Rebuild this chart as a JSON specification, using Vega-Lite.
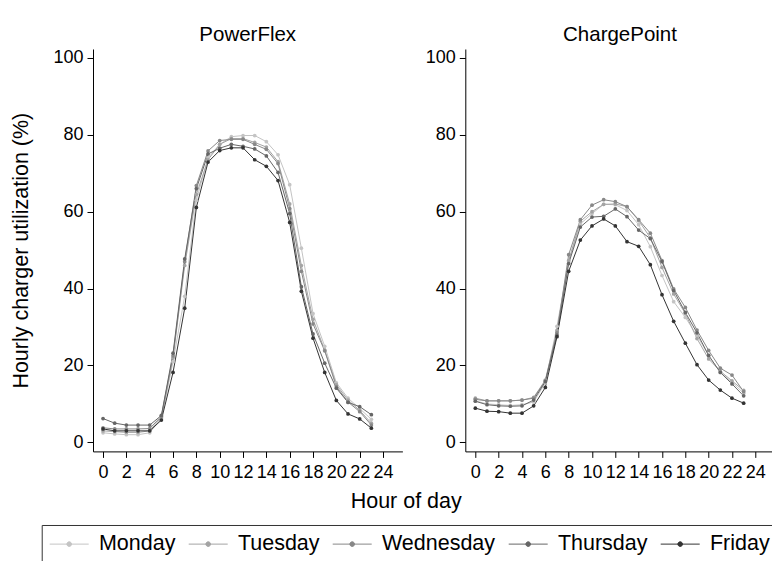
{
"$schema":"https://vega.github.io/schema/vega-lite/v6.json",
"padding":{"left":10,"top":25,"right":0,"bottom":0},
"datasets":{"d":[
{"charger":"PowerFlex","day":"Monday","hour":0,"util":2.5},{"charger":"PowerFlex","day":"Monday","hour":1,"util":2.2},{"charger":"PowerFlex","day":"Monday","hour":2,"util":2.0},{"charger":"PowerFlex","day":"Monday","hour":3,"util":2.0},{"charger":"PowerFlex","day":"Monday","hour":4,"util":2.5},{"charger":"PowerFlex","day":"Monday","hour":5,"util":6.2},{"charger":"PowerFlex","day":"Monday","hour":6,"util":21},{"charger":"PowerFlex","day":"Monday","hour":7,"util":38},{"charger":"PowerFlex","day":"Monday","hour":8,"util":63},{"charger":"PowerFlex","day":"Monday","hour":9,"util":74},{"charger":"PowerFlex","day":"Monday","hour":10,"util":77.5},{"charger":"PowerFlex","day":"Monday","hour":11,"util":79.5},{"charger":"PowerFlex","day":"Monday","hour":12,"util":79.8},{"charger":"PowerFlex","day":"Monday","hour":13,"util":79.8},{"charger":"PowerFlex","day":"Monday","hour":14,"util":78.2},{"charger":"PowerFlex","day":"Monday","hour":15,"util":74.8},{"charger":"PowerFlex","day":"Monday","hour":16,"util":67},{"charger":"PowerFlex","day":"Monday","hour":17,"util":50.5},{"charger":"PowerFlex","day":"Monday","hour":18,"util":33.5},{"charger":"PowerFlex","day":"Monday","hour":19,"util":25},{"charger":"PowerFlex","day":"Monday","hour":20,"util":15.5},{"charger":"PowerFlex","day":"Monday","hour":21,"util":11.5},{"charger":"PowerFlex","day":"Monday","hour":22,"util":8.8},{"charger":"PowerFlex","day":"Monday","hour":23,"util":6.0},
{"charger":"PowerFlex","day":"Tuesday","hour":0,"util":3.0},{"charger":"PowerFlex","day":"Tuesday","hour":1,"util":2.8},{"charger":"PowerFlex","day":"Tuesday","hour":2,"util":2.6},{"charger":"PowerFlex","day":"Tuesday","hour":3,"util":2.6},{"charger":"PowerFlex","day":"Tuesday","hour":4,"util":3.0},{"charger":"PowerFlex","day":"Tuesday","hour":5,"util":6.5},{"charger":"PowerFlex","day":"Tuesday","hour":6,"util":22},{"charger":"PowerFlex","day":"Tuesday","hour":7,"util":46},{"charger":"PowerFlex","day":"Tuesday","hour":8,"util":64.5},{"charger":"PowerFlex","day":"Tuesday","hour":9,"util":73.5},{"charger":"PowerFlex","day":"Tuesday","hour":10,"util":77.5},{"charger":"PowerFlex","day":"Tuesday","hour":11,"util":79},{"charger":"PowerFlex","day":"Tuesday","hour":12,"util":79},{"charger":"PowerFlex","day":"Tuesday","hour":13,"util":78},{"charger":"PowerFlex","day":"Tuesday","hour":14,"util":76.8},{"charger":"PowerFlex","day":"Tuesday","hour":15,"util":73},{"charger":"PowerFlex","day":"Tuesday","hour":16,"util":62},{"charger":"PowerFlex","day":"Tuesday","hour":17,"util":46},{"charger":"PowerFlex","day":"Tuesday","hour":18,"util":32},{"charger":"PowerFlex","day":"Tuesday","hour":19,"util":24},{"charger":"PowerFlex","day":"Tuesday","hour":20,"util":15},{"charger":"PowerFlex","day":"Tuesday","hour":21,"util":11},{"charger":"PowerFlex","day":"Tuesday","hour":22,"util":8.3},{"charger":"PowerFlex","day":"Tuesday","hour":23,"util":5.0},
{"charger":"PowerFlex","day":"Wednesday","hour":0,"util":3.8},{"charger":"PowerFlex","day":"Wednesday","hour":1,"util":3.5},{"charger":"PowerFlex","day":"Wednesday","hour":2,"util":3.5},{"charger":"PowerFlex","day":"Wednesday","hour":3,"util":3.5},{"charger":"PowerFlex","day":"Wednesday","hour":4,"util":3.6},{"charger":"PowerFlex","day":"Wednesday","hour":5,"util":6.8},{"charger":"PowerFlex","day":"Wednesday","hour":6,"util":22.5},{"charger":"PowerFlex","day":"Wednesday","hour":7,"util":47},{"charger":"PowerFlex","day":"Wednesday","hour":8,"util":66.8},{"charger":"PowerFlex","day":"Wednesday","hour":9,"util":75.8},{"charger":"PowerFlex","day":"Wednesday","hour":10,"util":78.5},{"charger":"PowerFlex","day":"Wednesday","hour":11,"util":78.8},{"charger":"PowerFlex","day":"Wednesday","hour":12,"util":78.8},{"charger":"PowerFlex","day":"Wednesday","hour":13,"util":77.5},{"charger":"PowerFlex","day":"Wednesday","hour":14,"util":76.2},{"charger":"PowerFlex","day":"Wednesday","hour":15,"util":72.5},{"charger":"PowerFlex","day":"Wednesday","hour":16,"util":60.8},{"charger":"PowerFlex","day":"Wednesday","hour":17,"util":44.5},{"charger":"PowerFlex","day":"Wednesday","hour":18,"util":30.8},{"charger":"PowerFlex","day":"Wednesday","hour":19,"util":23.8},{"charger":"PowerFlex","day":"Wednesday","hour":20,"util":14.5},{"charger":"PowerFlex","day":"Wednesday","hour":21,"util":10.5},{"charger":"PowerFlex","day":"Wednesday","hour":22,"util":8.0},{"charger":"PowerFlex","day":"Wednesday","hour":23,"util":4.5},
{"charger":"PowerFlex","day":"Thursday","hour":0,"util":6.2},{"charger":"PowerFlex","day":"Thursday","hour":1,"util":5.0},{"charger":"PowerFlex","day":"Thursday","hour":2,"util":4.5},{"charger":"PowerFlex","day":"Thursday","hour":3,"util":4.5},{"charger":"PowerFlex","day":"Thursday","hour":4,"util":4.5},{"charger":"PowerFlex","day":"Thursday","hour":5,"util":7.0},{"charger":"PowerFlex","day":"Thursday","hour":6,"util":23.2},{"charger":"PowerFlex","day":"Thursday","hour":7,"util":47.7},{"charger":"PowerFlex","day":"Thursday","hour":8,"util":66},{"charger":"PowerFlex","day":"Thursday","hour":9,"util":75},{"charger":"PowerFlex","day":"Thursday","hour":10,"util":76.5},{"charger":"PowerFlex","day":"Thursday","hour":11,"util":77.5},{"charger":"PowerFlex","day":"Thursday","hour":12,"util":77},{"charger":"PowerFlex","day":"Thursday","hour":13,"util":76.3},{"charger":"PowerFlex","day":"Thursday","hour":14,"util":74.5},{"charger":"PowerFlex","day":"Thursday","hour":15,"util":70.2},{"charger":"PowerFlex","day":"Thursday","hour":16,"util":59.5},{"charger":"PowerFlex","day":"Thursday","hour":17,"util":40.5},{"charger":"PowerFlex","day":"Thursday","hour":18,"util":28.2},{"charger":"PowerFlex","day":"Thursday","hour":19,"util":20.6},{"charger":"PowerFlex","day":"Thursday","hour":20,"util":14.1},{"charger":"PowerFlex","day":"Thursday","hour":21,"util":10.4},{"charger":"PowerFlex","day":"Thursday","hour":22,"util":9.3},{"charger":"PowerFlex","day":"Thursday","hour":23,"util":7.2},
{"charger":"PowerFlex","day":"Friday","hour":0,"util":3.5},{"charger":"PowerFlex","day":"Friday","hour":1,"util":3.0},{"charger":"PowerFlex","day":"Friday","hour":2,"util":3.0},{"charger":"PowerFlex","day":"Friday","hour":3,"util":3.0},{"charger":"PowerFlex","day":"Friday","hour":4,"util":3.0},{"charger":"PowerFlex","day":"Friday","hour":5,"util":5.8},{"charger":"PowerFlex","day":"Friday","hour":6,"util":18.2},{"charger":"PowerFlex","day":"Friday","hour":7,"util":34.9},{"charger":"PowerFlex","day":"Friday","hour":8,"util":61.1},{"charger":"PowerFlex","day":"Friday","hour":9,"util":72.9},{"charger":"PowerFlex","day":"Friday","hour":10,"util":75.9},{"charger":"PowerFlex","day":"Friday","hour":11,"util":76.6},{"charger":"PowerFlex","day":"Friday","hour":12,"util":76.6},{"charger":"PowerFlex","day":"Friday","hour":13,"util":73.5},{"charger":"PowerFlex","day":"Friday","hour":14,"util":71.8},{"charger":"PowerFlex","day":"Friday","hour":15,"util":68.1},{"charger":"PowerFlex","day":"Friday","hour":16,"util":57.2},{"charger":"PowerFlex","day":"Friday","hour":17,"util":39.3},{"charger":"PowerFlex","day":"Friday","hour":18,"util":27.1},{"charger":"PowerFlex","day":"Friday","hour":19,"util":18.2},{"charger":"PowerFlex","day":"Friday","hour":20,"util":10.9},{"charger":"PowerFlex","day":"Friday","hour":21,"util":7.4},{"charger":"PowerFlex","day":"Friday","hour":22,"util":6.1},{"charger":"PowerFlex","day":"Friday","hour":23,"util":3.7},
{"charger":"ChargePoint","day":"Monday","hour":0,"util":10.8},{"charger":"ChargePoint","day":"Monday","hour":1,"util":10.0},{"charger":"ChargePoint","day":"Monday","hour":2,"util":9.8},{"charger":"ChargePoint","day":"Monday","hour":3,"util":9.6},{"charger":"ChargePoint","day":"Monday","hour":4,"util":9.8},{"charger":"ChargePoint","day":"Monday","hour":5,"util":10.5},{"charger":"ChargePoint","day":"Monday","hour":6,"util":15.5},{"charger":"ChargePoint","day":"Monday","hour":7,"util":30.2},{"charger":"ChargePoint","day":"Monday","hour":8,"util":47},{"charger":"ChargePoint","day":"Monday","hour":9,"util":56.8},{"charger":"ChargePoint","day":"Monday","hour":10,"util":59.5},{"charger":"ChargePoint","day":"Monday","hour":11,"util":61.9},{"charger":"ChargePoint","day":"Monday","hour":12,"util":61.8},{"charger":"ChargePoint","day":"Monday","hour":13,"util":60.3},{"charger":"ChargePoint","day":"Monday","hour":14,"util":56.6},{"charger":"ChargePoint","day":"Monday","hour":15,"util":50.9},{"charger":"ChargePoint","day":"Monday","hour":16,"util":43.4},{"charger":"ChargePoint","day":"Monday","hour":17,"util":36.6},{"charger":"ChargePoint","day":"Monday","hour":18,"util":32.5},{"charger":"ChargePoint","day":"Monday","hour":19,"util":27.8},{"charger":"ChargePoint","day":"Monday","hour":20,"util":22.6},{"charger":"ChargePoint","day":"Monday","hour":21,"util":18.2},{"charger":"ChargePoint","day":"Monday","hour":22,"util":15.6},{"charger":"ChargePoint","day":"Monday","hour":23,"util":12.8},
{"charger":"ChargePoint","day":"Tuesday","hour":0,"util":11.5},{"charger":"ChargePoint","day":"Tuesday","hour":1,"util":10.8},{"charger":"ChargePoint","day":"Tuesday","hour":2,"util":10.8},{"charger":"ChargePoint","day":"Tuesday","hour":3,"util":10.8},{"charger":"ChargePoint","day":"Tuesday","hour":4,"util":11},{"charger":"ChargePoint","day":"Tuesday","hour":5,"util":11.7},{"charger":"ChargePoint","day":"Tuesday","hour":6,"util":16.2},{"charger":"ChargePoint","day":"Tuesday","hour":7,"util":29.1},{"charger":"ChargePoint","day":"Tuesday","hour":8,"util":47.3},{"charger":"ChargePoint","day":"Tuesday","hour":9,"util":57.5},{"charger":"ChargePoint","day":"Tuesday","hour":10,"util":60},{"charger":"ChargePoint","day":"Tuesday","hour":11,"util":61.9},{"charger":"ChargePoint","day":"Tuesday","hour":12,"util":62},{"charger":"ChargePoint","day":"Tuesday","hour":13,"util":61.3},{"charger":"ChargePoint","day":"Tuesday","hour":14,"util":57.7},{"charger":"ChargePoint","day":"Tuesday","hour":15,"util":53.2},{"charger":"ChargePoint","day":"Tuesday","hour":16,"util":45.5},{"charger":"ChargePoint","day":"Tuesday","hour":17,"util":38.6},{"charger":"ChargePoint","day":"Tuesday","hour":18,"util":33.5},{"charger":"ChargePoint","day":"Tuesday","hour":19,"util":27},{"charger":"ChargePoint","day":"Tuesday","hour":20,"util":21.7},{"charger":"ChargePoint","day":"Tuesday","hour":21,"util":18.5},{"charger":"ChargePoint","day":"Tuesday","hour":22,"util":16},{"charger":"ChargePoint","day":"Tuesday","hour":23,"util":13.5},
{"charger":"ChargePoint","day":"Wednesday","hour":0,"util":11.2},{"charger":"ChargePoint","day":"Wednesday","hour":1,"util":10.8},{"charger":"ChargePoint","day":"Wednesday","hour":2,"util":10.8},{"charger":"ChargePoint","day":"Wednesday","hour":3,"util":10.8},{"charger":"ChargePoint","day":"Wednesday","hour":4,"util":11},{"charger":"ChargePoint","day":"Wednesday","hour":5,"util":11.5},{"charger":"ChargePoint","day":"Wednesday","hour":6,"util":16},{"charger":"ChargePoint","day":"Wednesday","hour":7,"util":28.5},{"charger":"ChargePoint","day":"Wednesday","hour":8,"util":48.8},{"charger":"ChargePoint","day":"Wednesday","hour":9,"util":57.9},{"charger":"ChargePoint","day":"Wednesday","hour":10,"util":61.7},{"charger":"ChargePoint","day":"Wednesday","hour":11,"util":63.1},{"charger":"ChargePoint","day":"Wednesday","hour":12,"util":62.6},{"charger":"ChargePoint","day":"Wednesday","hour":13,"util":61.3},{"charger":"ChargePoint","day":"Wednesday","hour":14,"util":57.9},{"charger":"ChargePoint","day":"Wednesday","hour":15,"util":54.4},{"charger":"ChargePoint","day":"Wednesday","hour":16,"util":47.3},{"charger":"ChargePoint","day":"Wednesday","hour":17,"util":39.9},{"charger":"ChargePoint","day":"Wednesday","hour":18,"util":35.1},{"charger":"ChargePoint","day":"Wednesday","hour":19,"util":29.2},{"charger":"ChargePoint","day":"Wednesday","hour":20,"util":23.9},{"charger":"ChargePoint","day":"Wednesday","hour":21,"util":19.3},{"charger":"ChargePoint","day":"Wednesday","hour":22,"util":17.5},{"charger":"ChargePoint","day":"Wednesday","hour":23,"util":13.2},
{"charger":"ChargePoint","day":"Thursday","hour":0,"util":10.7},{"charger":"ChargePoint","day":"Thursday","hour":1,"util":9.8},{"charger":"ChargePoint","day":"Thursday","hour":2,"util":9.5},{"charger":"ChargePoint","day":"Thursday","hour":3,"util":9.4},{"charger":"ChargePoint","day":"Thursday","hour":4,"util":9.5},{"charger":"ChargePoint","day":"Thursday","hour":5,"util":11},{"charger":"ChargePoint","day":"Thursday","hour":6,"util":15.8},{"charger":"ChargePoint","day":"Thursday","hour":7,"util":27.9},{"charger":"ChargePoint","day":"Thursday","hour":8,"util":46.5},{"charger":"ChargePoint","day":"Thursday","hour":9,"util":56},{"charger":"ChargePoint","day":"Thursday","hour":10,"util":58.6},{"charger":"ChargePoint","day":"Thursday","hour":11,"util":58.8},{"charger":"ChargePoint","day":"Thursday","hour":12,"util":60.7},{"charger":"ChargePoint","day":"Thursday","hour":13,"util":58.7},{"charger":"ChargePoint","day":"Thursday","hour":14,"util":55.2},{"charger":"ChargePoint","day":"Thursday","hour":15,"util":53},{"charger":"ChargePoint","day":"Thursday","hour":16,"util":47},{"charger":"ChargePoint","day":"Thursday","hour":17,"util":39.5},{"charger":"ChargePoint","day":"Thursday","hour":18,"util":33.8},{"charger":"ChargePoint","day":"Thursday","hour":19,"util":28.5},{"charger":"ChargePoint","day":"Thursday","hour":20,"util":22.6},{"charger":"ChargePoint","day":"Thursday","hour":21,"util":18.2},{"charger":"ChargePoint","day":"Thursday","hour":22,"util":15.2},{"charger":"ChargePoint","day":"Thursday","hour":23,"util":12.1},
{"charger":"ChargePoint","day":"Friday","hour":0,"util":8.9},{"charger":"ChargePoint","day":"Friday","hour":1,"util":8.1},{"charger":"ChargePoint","day":"Friday","hour":2,"util":8.0},{"charger":"ChargePoint","day":"Friday","hour":3,"util":7.6},{"charger":"ChargePoint","day":"Friday","hour":4,"util":7.6},{"charger":"ChargePoint","day":"Friday","hour":5,"util":9.5},{"charger":"ChargePoint","day":"Friday","hour":6,"util":14.3},{"charger":"ChargePoint","day":"Friday","hour":7,"util":27.5},{"charger":"ChargePoint","day":"Friday","hour":8,"util":44.5},{"charger":"ChargePoint","day":"Friday","hour":9,"util":52.6},{"charger":"ChargePoint","day":"Friday","hour":10,"util":56.3},{"charger":"ChargePoint","day":"Friday","hour":11,"util":58.1},{"charger":"ChargePoint","day":"Friday","hour":12,"util":56.3},{"charger":"ChargePoint","day":"Friday","hour":13,"util":52.2},{"charger":"ChargePoint","day":"Friday","hour":14,"util":51},{"charger":"ChargePoint","day":"Friday","hour":15,"util":46.2},{"charger":"ChargePoint","day":"Friday","hour":16,"util":38.4},{"charger":"ChargePoint","day":"Friday","hour":17,"util":31.5},{"charger":"ChargePoint","day":"Friday","hour":18,"util":25.8},{"charger":"ChargePoint","day":"Friday","hour":19,"util":20.2},{"charger":"ChargePoint","day":"Friday","hour":20,"util":16.2},{"charger":"ChargePoint","day":"Friday","hour":21,"util":13.6},{"charger":"ChargePoint","day":"Friday","hour":22,"util":11.5},{"charger":"ChargePoint","day":"Friday","hour":23,"util":10.2}
]},
"bounds":"flush",
"spacing":62.3,
"hconcat":[
{
"width":309.4,"height":402.4,
"title":{"text":"PowerFlex"},
"data":{"name":"d"},
"transform":[{"filter":"datum.charger == 'PowerFlex'"}],
"mark":{"type":"line","strokeWidth":1,"point":{"filled":true,"size":14}},
"encoding":{
"x":{"field":"hour","type":"quantitative","scale":{"domain":[-0.86,25.66],"nice":false,"zero":false},
"axis":{"values":[0,2,4,6,8,10,12,14,16,18,20,22,24],"labelOverlap":false,"labelFlush":false,"labelPadding":6,"title":"Hour of day","titleX":312.7,"titleY":56.3,"titleBaseline":"alphabetic"}},
"y":{"field":"util","type":"quantitative","scale":{"domain":[-2.34,102.3],"nice":false,"zero":false},
"axis":{"values":[0,20,40,60,80,100],"title":"Hourly charger utilization (%)","titlePadding":20.3}},
"color":{"field":"day","type":"nominal","scale":{"domain":["Monday","Tuesday","Wednesday","Thursday","Friday"],"range":["#c4c4c4","#a4a4a4","#888888","#666666","#333333"]},
"legend":{"orient":"none","legendX":-51.3,"legendY":476,"direction":"horizontal","title":null,"symbolType":"M-2,0H2M-0.24,0A0.24,0.24,0,1,1,0.24,0A0.24,0.24,0,1,1,-0.24,0Z","symbolSize":380,"symbolOffset":8.75,"symbolStrokeWidth":1,"labelFontSize":21.5,"labelOffset":19,"columnPadding":11,"padding":8,"strokeColor":"#333333","labelColor":"#000000","labelFont":"Liberation Sans"}}
}
},
{
"width":309.4,"height":402.4,
"title":{"text":"ChargePoint"},
"data":{"name":"d"},
"transform":[{"filter":"datum.charger == 'ChargePoint'"}],
"mark":{"type":"line","strokeWidth":1,"point":{"filled":true,"size":14}},
"encoding":{
"x":{"field":"hour","type":"quantitative","scale":{"domain":[-0.86,25.66],"nice":false,"zero":false},
"axis":{"values":[0,2,4,6,8,10,12,14,16,18,20,22,24],"labelOverlap":false,"labelFlush":false,"labelPadding":6,"title":null}},
"y":{"field":"util","type":"quantitative","scale":{"domain":[-2.34,102.3],"nice":false,"zero":false},
"axis":{"values":[0,20,40,60,80,100],"title":null}},
"color":{"field":"day","type":"nominal","scale":{"domain":["Monday","Tuesday","Wednesday","Thursday","Friday"],"range":["#c4c4c4","#a4a4a4","#888888","#666666","#333333"]},
"legend":{"orient":"none","legendX":-51.3,"legendY":476,"direction":"horizontal","title":null,"symbolType":"M-2,0H2M-0.24,0A0.24,0.24,0,1,1,0.24,0A0.24,0.24,0,1,1,-0.24,0Z","symbolSize":380,"symbolOffset":8.75,"symbolStrokeWidth":1,"labelFontSize":21.5,"labelOffset":19,"columnPadding":11,"padding":8,"strokeColor":"#333333","labelColor":"#000000","labelFont":"Liberation Sans"}}
}
}
],
"config":{
"font":"Liberation Sans",
"view":{"stroke":null},
"axis":{"grid":false,"domainColor":"#000000","tickColor":"#000000","labelColor":"#000000","titleColor":"#000000","labelFontSize":18,"titleFontSize":21.5,"titleFontWeight":"normal","tickSize":6,"labelPadding":4,"labelFont":"Liberation Sans","titleFont":"Liberation Sans"},
"title":{"fontSize":20.5,"fontWeight":"normal","color":"#000000","font":"Liberation Sans","baseline":"alphabetic","offset":3.3}
}
}
